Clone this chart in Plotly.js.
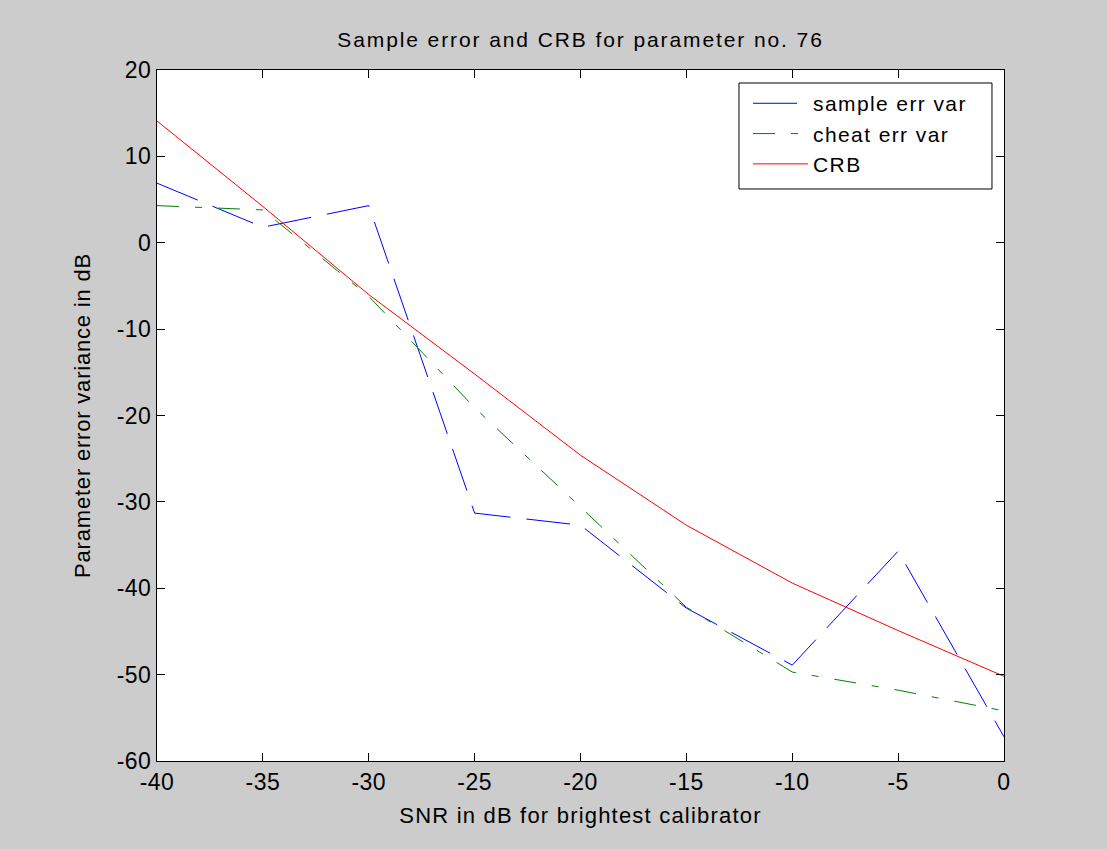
<!DOCTYPE html>
<html>
<head>
<meta charset="utf-8">
<script src="https://cdn.plot.ly/plotly-3.0.1.min.js"></script>
<style>
  html, body { margin: 0; padding: 0; background: #cccccc; }
  #chart { width: 1107px; height: 849px; }
  /* slightly wider lettering for the labels */
  text.gtitle { letter-spacing: 1.9px; }
  text.xtitle { letter-spacing: 1.2px; }
  text.ytitle { letter-spacing: 0.8px; }
  text.legendtext { letter-spacing: 1.4px; }
  g.xtick text, g.ytick text { letter-spacing: 0.5px; }
</style>
</head>
<body>
<div id="chart"></div>
<script>
// SNR steps (dB) for the brightest calibrator
const snr = [-40, -35, -30, -25, -20, -15, -10, -5, 0];

// Parameter error variance (dB) per SNR step
const sampleErrVar = [6.9, 1.8, 4.3, -31.3, -32.7, -42.3, -48.9, -35.7, -57.2];
const cheatErrVar  = [4.3, 3.8, -6.2, -19.1, -30.6, -42.2, -49.7, -51.8, -54.2];
const crb          = [14.1, 4.2, -6.0, -15.2, -24.6, -32.7, -39.4, -44.9, -50.2];

const seriesNames = ['sample err var', 'cheat err var', 'CRB'];

// Axis ticks, labelled with a plain hyphen-minus
const xTickVals = [-40, -35, -30, -25, -20, -15, -10, -5, 0];
const xTickText = ['-40', '-35', '-30', '-25', '-20', '-15', '-10', '-5', '0'];
const yTickVals = [-60, -50, -40, -30, -20, -10, 0, 10, 20];
const yTickText = ['-60', '-50', '-40', '-30', '-20', '-10', '0', '10', '20'];

const FONT = 'Liberation Sans, Arial, sans-serif';

const traces = [
  {
    x: snr, y: sampleErrVar, name: seriesNames[0], type: 'scatter', mode: 'lines',
    line: { color: '#0000ff', width: 1, dash: '44px,16px' }
  },
  {
    x: snr, y: cheatErrVar, name: seriesNames[1], type: 'scatter', mode: 'lines',
    line: { color: '#008000', width: 1, dash: '22px,16px,7px,16px' }
  },
  {
    x: snr, y: crb, name: seriesNames[2], type: 'scatter', mode: 'lines',
    line: { color: '#ff0000', width: 1 }
  }
];

const axisCommon = {
  showline: true, linecolor: '#000', linewidth: 1, mirror: 'ticks',
  ticks: 'inside', ticklen: 8, tickwidth: 1, tickcolor: '#000',
  showgrid: false, zeroline: false, tickmode: 'array',
  tickfont: { family: FONT, size: 23, color: '#000' }
};

const layout = {
  width: 1107, height: 849,
  paper_bgcolor: '#cccccc', plot_bgcolor: '#ffffff',
  margin: { l: 157, r: 103, t: 70, b: 88 },
  showlegend: true,
  title: {
    text: 'Sample error and CRB for parameter no. 76',
    font: { family: FONT, size: 21, color: '#000' },
    x: 0.5, xref: 'paper', y: 1 - 40 / 849, yref: 'container', yanchor: 'middle'
  },
  xaxis: Object.assign({}, axisCommon, {
    range: [-40, 0], tickvals: xTickVals, ticktext: xTickText,
    title: { text: 'SNR in dB for brightest calibrator', standoff: 14,
             font: { family: FONT, size: 22, color: '#000' } }
  }),
  yaxis: Object.assign({}, axisCommon, {
    range: [-60, 20], tickvals: yTickVals, ticktext: yTickText,
    title: { text: 'Parameter error variance in dB', standoff: 19,
             font: { family: FONT, size: 22, color: '#000' } }
  }),
  // legend frame: white box with a thin black border in the upper right
  shapes: [{
    type: 'rect', xref: 'paper', yref: 'paper', layer: 'above',
    x0: 0.6871, x1: 0.9858, y0: 0.8278, y1: 0.9812,
    fillcolor: '#ffffff', line: { color: '#000', width: 1 }
  }],
  legend: {
    x: 0.6978, xanchor: 'left', y: 0.981, yanchor: 'top',
    bgcolor: 'rgba(0,0,0,0)', borderwidth: 0,
    font: { family: FONT, size: 21, color: '#000' },
    itemwidth: 55
  }
};

Plotly.newPlot('chart', traces, layout, { displayModeBar: false, staticPlot: true });
</script>
</body>
</html>
